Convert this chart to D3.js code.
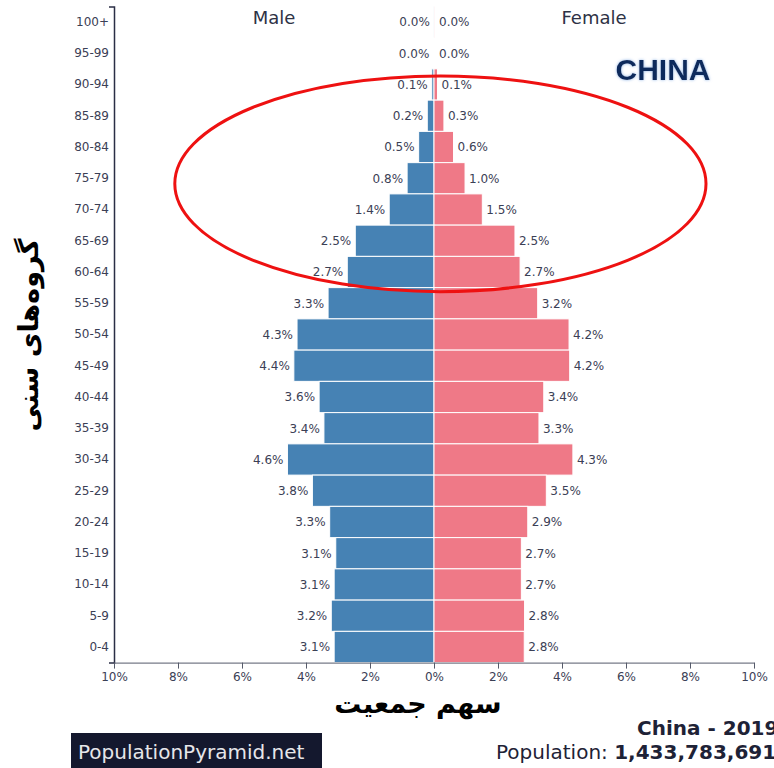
<!DOCTYPE html>
<html>
<head>
<meta charset="utf-8">
<script src="https://cdn.jsdelivr.net/npm/d3@7"></script>
<style>
  html, body { margin: 0; padding: 0; background: #fff; }
  svg { display: block; }
</style>
</head>
<body>
<script>
// ---- data ----
const ageGroups = ["100+","95-99","90-94","85-89","80-84","75-79","70-74","65-69","60-64","55-59",
  "50-54","45-49","40-44","35-39","30-34","25-29","20-24","15-19","10-14","5-9","0-4"];
const maleShare = [0.005,0.02,0.07,0.21,0.48,0.84,1.40,2.46,2.71,3.31,
  4.28,4.38,3.59,3.44,4.58,3.80,3.26,3.07,3.12,3.21,3.12];
const femaleShare = [0.01,0.03,0.11,0.31,0.61,0.97,1.51,2.53,2.69,3.24,
  4.22,4.24,3.43,3.28,4.34,3.51,2.93,2.73,2.73,2.83,2.82];
const xTicks = [-10,-8,-6,-4,-2,0,2,4,6,8,10];
const seriesNames = ["Male","Female"];
const countryLabel = "CHINA";
const footerTitle = "China - 2019";
const footerPopLabel = "Population: ";
const footerPopValue = "1,433,783,691";
const brand = "PopulationPyramid.net";
const yTitle = "گروه‌های سنی";
const xTitle = "سهم جمعیت";

const W = 774, H = 768;
const svg = d3.select("body").append("svg").attr("width", W).attr("height", H);

const x = d3.scaleLinear().domain([-10, 10]).range([114, 754]);
const y = d3.scaleBand().domain(ageGroups).range([6.4, 662.6]).padding(0);
const bw = y.bandwidth();

const txt = "#3b4055";
const male = "#4682b4", female = "#ef7987";

// bars
const rows = ageGroups.map((g, i) => ({g, m: maleShare[i], f: femaleShare[i]}));
svg.append("g").selectAll("rect").data(rows).join("rect")
  .attr("x", d => x(-d.m)).attr("y", d => y(d.g))
  .attr("width", d => x(0) - x(-d.m)).attr("height", bw)
  .attr("fill", male).attr("stroke", "#fff").attr("stroke-width", 1);
svg.append("g").selectAll("rect").data(rows).join("rect")
  .attr("x", x(0)).attr("y", d => y(d.g))
  .attr("width", d => x(d.f) - x(0)).attr("height", bw)
  .attr("fill", female).attr("stroke", "#fff").attr("stroke-width", 1);

// value labels
const lblFont = "DejaVu Sans, sans-serif";
svg.append("g").selectAll("text").data(rows).join("text")
  .attr("x", d => x(-d.m) - 4).attr("y", d => y(d.g) + bw / 2)
  .attr("dy", "0.36em").attr("text-anchor", "end")
  .attr("font-family", lblFont).attr("font-size", 12).attr("fill", txt)
  .text(d => d.m.toFixed(1) + "%");
svg.append("g").selectAll("text").data(rows).join("text")
  .attr("x", d => Math.max(x(d.f), x(0) + 1) + 4).attr("y", d => y(d.g) + bw / 2)
  .attr("dy", "0.36em").attr("text-anchor", "start")
  .attr("font-family", lblFont).attr("font-size", 12).attr("fill", txt)
  .text(d => d.f.toFixed(1) + "%");

// y axis
const yAxis = svg.append("g").attr("transform", `translate(${x(-10)},0)`)
  .call(d3.axisLeft(y).tickSizeInner(0).tickSizeOuter(5).tickPadding(5));
yAxis.select(".domain").attr("stroke", "#2a2e45").attr("stroke-width", 1.5);
yAxis.selectAll("text").attr("font-family", lblFont).attr("font-size", 12).attr("fill", txt);

// x axis
const xAxis = svg.append("g").attr("transform", `translate(0,${y.range()[1]})`)
  .call(d3.axisBottom(x).tickValues(xTicks).tickSizeInner(6).tickSizeOuter(0).tickPadding(4)
    .tickFormat(d => Math.abs(d) + "%"));
xAxis.select(".domain").attr("stroke", "#555a6a");
xAxis.selectAll("line").attr("stroke", "#555a6a");
xAxis.selectAll("text").attr("font-family", lblFont).attr("font-size", 12).attr("fill", txt);

// series headers
svg.append("text").attr("x", x(-5)).attr("y", 24).attr("text-anchor", "middle")
  .attr("font-family", lblFont).attr("font-size", 18).attr("fill", "#2e3245").text(seriesNames[0]);
svg.append("text").attr("x", x(5)).attr("y", 24).attr("text-anchor", "middle")
  .attr("font-family", lblFont).attr("font-size", 18).attr("fill", "#2e3245").text(seriesNames[1]);

// country label with glow
const defs = svg.append("defs");
const f = defs.append("filter").attr("id", "glow").attr("x", "-10%").attr("y", "-30%").attr("width", "120%").attr("height", "160%");
f.append("feGaussianBlur").attr("in", "SourceAlpha").attr("stdDeviation", 1.5).attr("result", "b");
f.append("feFlood").attr("flood-color", "#8fb4e6").attr("result", "c");
f.append("feComposite").attr("in", "c").attr("in2", "b").attr("operator", "in").attr("result", "g");
const m = f.append("feMerge");
m.append("feMergeNode").attr("in", "g");
m.append("feMergeNode").attr("in", "SourceGraphic");
svg.append("text").attr("x", 663).attr("y", 80).attr("text-anchor", "middle")
  .attr("font-family", "Liberation Sans, Arial, sans-serif").attr("font-weight", "bold")
  .attr("font-size", 30).attr("fill", "#0d2a5c").attr("filter", "url(#glow)").text(countryLabel);

// red annotation ellipse
const eTop = y("90-94") + 7, eBot = y("60-64") + bw + 4;
svg.append("ellipse")
  .attr("cx", x(0.2)).attr("cy", (eTop + eBot) / 2)
  .attr("rx", x(8.3) - x(0)).attr("ry", (eBot - eTop) / 2)
  .attr("fill", "none").attr("stroke", "#ee1111").attr("stroke-width", 3);

// axis titles (Persian)
svg.append("text").attr("transform", "translate(38,335) rotate(-90)")
  .attr("text-anchor", "middle").attr("font-family", "DejaVu Sans, sans-serif")
  .attr("font-weight", "bold").attr("font-size", 27).attr("fill", "#000").text(yTitle);
svg.append("text").attr("x", 418).attr("y", 713).attr("text-anchor", "middle")
  .attr("font-family", "DejaVu Sans, sans-serif").attr("font-weight", "bold")
  .attr("font-size", 27).attr("fill", "#000").text(xTitle);

// footer
svg.append("rect").attr("x", 71).attr("y", 733).attr("width", 251).attr("height", 40).attr("fill", "#14182e");
svg.append("text").attr("x", 78).attr("y", 759).attr("font-family", lblFont).attr("font-size", 20)
  .attr("fill", "#e6e6ea").text(brand);
svg.append("text").attr("x", 637).attr("y", 735).attr("font-family", lblFont).attr("font-weight", "bold")
  .attr("font-size", 20).attr("fill", "#1e2236").text(footerTitle);
const pop = svg.append("text").attr("x", 496).attr("y", 759).attr("font-family", lblFont)
  .attr("font-size", 20).attr("fill", "#1e2236");
pop.append("tspan").text(footerPopLabel);
pop.append("tspan").attr("font-weight", "bold").text(footerPopValue);
</script>
</body>
</html>
